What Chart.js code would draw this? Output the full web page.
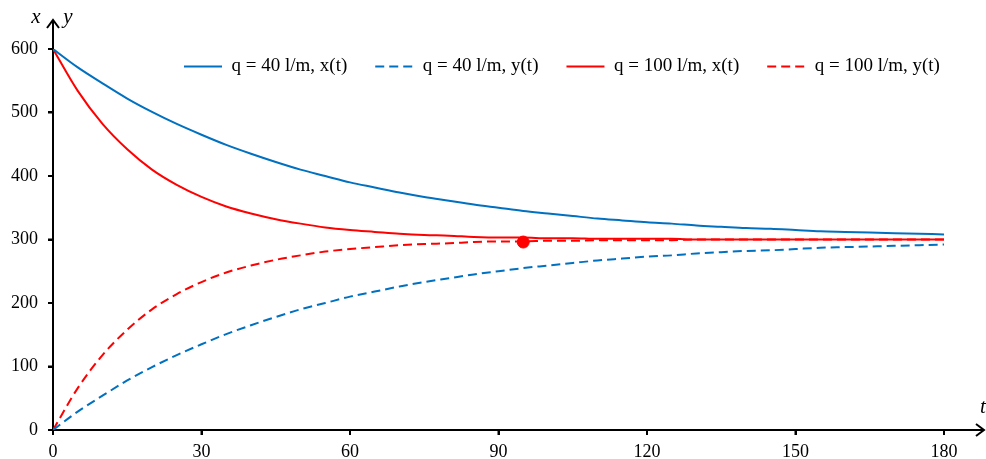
<!DOCTYPE html>
<html>
<head>
<meta charset="utf-8">
<script src="https://cdn.jsdelivr.net/npm/chart.js@4.4.1/dist/chart.umd.min.js"></script>
<style>
  html, body { margin: 0; padding: 0; background: #fff; }
  #wrap { width: 986px; height: 459px; }
</style>
</head>
<body>
<div id="wrap"><canvas id="mixChart"></canvas></div>
<script>
// time in minutes
const times = [0, 5, 10, 15, 20, 25, 30, 35, 40, 45, 50, 55, 60, 65, 70, 75, 80, 85, 90,
  95, 100, 105, 110, 115, 120, 125, 130, 135, 140, 145, 150, 155, 160, 165, 170, 175, 180];

// q = 40 l/m
const x40 = [600, 571, 546, 522, 501, 482, 465, 449, 435, 422, 410, 400, 390, 382, 374, 367, 361, 355, 350,
  345, 341, 337, 333, 330, 327, 325, 322, 320, 318, 317, 315, 313, 312, 311, 310, 309, 308];
const y40 = [0, 29, 54, 78, 99, 118, 135, 151, 165, 178, 190, 200, 210, 218, 226, 233, 239, 245, 250,
  255, 259, 263, 267, 270, 273, 275, 278, 280, 282, 283, 285, 287, 288, 289, 290, 291, 292];

// q = 100 l/m
const x100 = [600, 534, 482, 442, 410, 386, 367, 352, 341, 332, 325, 319, 315, 312, 309, 307, 306, 304, 303,
  303, 302, 302, 301, 301, 301, 301, 300, 300, 300, 300, 300, 300, 300, 300, 300, 300, 300];
const y100 = [0, 66, 118, 158, 190, 214, 233, 248, 259, 268, 275, 281, 285, 288, 291, 293, 294, 296, 297,
  297, 298, 298, 299, 299, 299, 299, 300, 300, 300, 300, 300, 300, 300, 300, 300, 300, 300];

const marker = [{ x: 95, y: 296 }];

const seriesNames = ['q = 40 l/m, x(t)', 'q = 40 l/m, y(t)', 'q = 100 l/m, x(t)', 'q = 100 l/m, y(t)'];

const BLUE = '#0070C0';
const RED = '#FF0000';
const DASH = [9, 5];
const SERIF = '"Liberation Serif", "Times New Roman", serif';

// axis lines with arrows and tick marks, the x / y / t letters,
// and the legend moved inside the plot
const arrowAxes = {
  id: 'arrowAxes',
  afterLayout(chart) {
    const lg = chart.legend;
    lg.left = 156;
    lg.right = 986;
    lg.width = lg.right - lg.left;
    lg.top = 29;
    lg.bottom = 100;
    lg.height = lg.bottom - lg.top;
  },
  beforeDatasetsDraw(chart) {
    const { ctx } = chart;
    const xs = chart.scales.x;
    const ys = chart.scales.y;
    const x0 = xs.getPixelForValue(0);
    const y0 = ys.getPixelForValue(0);
    ctx.save();
    ctx.strokeStyle = '#000';
    ctx.lineWidth = 2;
    ctx.beginPath();
    ctx.moveTo(x0, y0);
    ctx.lineTo(x0, 20);
    ctx.moveTo(x0, y0);
    ctx.lineTo(984, y0);
    xs.ticks.forEach(t => {
      if (t.value === 0) return;
      const px = xs.getPixelForValue(t.value);
      ctx.moveTo(px, y0);
      ctx.lineTo(px, y0 + 5);
    });
    ys.ticks.forEach(t => {
      const py = ys.getPixelForValue(t.value);
      ctx.moveTo(x0 - 5, py);
      ctx.lineTo(x0, py);
    });
    ctx.stroke();

    ctx.lineJoin = 'miter';
    ctx.beginPath();
    ctx.moveTo(x0 - 6, 28);
    ctx.lineTo(x0, 20);
    ctx.lineTo(x0 + 6, 28);
    ctx.moveTo(976, y0 - 6);
    ctx.lineTo(984, y0);
    ctx.lineTo(976, y0 + 6);
    ctx.stroke();

    ctx.fillStyle = '#000';
    ctx.font = 'italic 21px ' + SERIF;
    ctx.textAlign = 'center';
    ctx.textBaseline = 'alphabetic';
    ctx.fillText('x', 36, 23);
    ctx.fillText('y', 68, 23);
    ctx.fillText('t', 983, 413);
    ctx.restore();
  }
};

const datasets = [
  { label: seriesNames[0], data: x40, borderColor: BLUE, backgroundColor: BLUE, borderWidth: 2 },
  { label: seriesNames[1], data: y40, borderColor: BLUE, backgroundColor: BLUE, borderWidth: 2, borderDash: DASH },
  { label: seriesNames[2], data: x100, borderColor: RED, backgroundColor: RED, borderWidth: 2 },
  { label: seriesNames[3], data: y100, borderColor: RED, backgroundColor: RED, borderWidth: 2, borderDash: DASH },
  {
    type: 'scatter', label: 'point', data: marker,
    pointRadius: 6, pointBackgroundColor: RED, pointBorderColor: RED, pointHoverRadius: 6
  }
];
datasets.slice(0, 4).forEach(d => {
  d.pointRadius = 0;
  d.fill = false;
  d.cubicInterpolationMode = 'monotone';
});

// legend samples: keep the dash of each line
function legendLabels(chart) {
  const items = Chart.defaults.plugins.legend.labels.generateLabels(chart);
  return items.filter(item => item.datasetIndex < 4).map(item => {
    const ds = chart.data.datasets[item.datasetIndex];
    item.lineDash = ds.borderDash || [];
    item.strokeStyle = ds.borderColor;
    item.lineWidth = 2;
    return item;
  });
}

const ctx = document.getElementById('mixChart').getContext('2d');
const mixChart = new Chart(ctx, {
  type: 'line',
  data: { labels: times, datasets: datasets },
  plugins: [arrowAxes],
  options: {
    responsive: true,
    maintainAspectRatio: false,
    animation: false,
    layout: { padding: { left: 0, right: 42, top: 27, bottom: 0 } },
    plugins: {
      tooltip: { enabled: false },
      legend: {
        position: 'top',
        align: 'start',
        maxHeight: 22,
        labels: {
          usePointStyle: true,
          pointStyle: 'line',
          pointStyleWidth: 38,
          padding: 28,
          color: '#000',
          font: { family: SERIF, size: 19 },
          generateLabels: legendLabels
        }
      }
    },
    scales: {
      x: {
        type: 'linear',
        min: 0,
        max: 180,
        afterFit: s => { s.height = 29; },
        border: { display: false },
        grid: { drawOnChartArea: false, drawTicks: true, tickLength: 5, lineWidth: 2, tickColor: '#000' },
        ticks: { stepSize: 30, padding: 6, color: '#000', font: { family: SERIF, size: 18 }, maxRotation: 0 }
      },
      y: {
        min: 0,
        max: 600,
        afterFit: s => { s.width = 53; },
        border: { display: false },
        grid: { drawOnChartArea: false, drawTicks: true, tickLength: 5, lineWidth: 2, tickColor: '#000' },
        ticks: { stepSize: 100, padding: 10, color: '#000', font: { family: SERIF, size: 18 } }
      }
    }
  }
});
</script>
</body>
</html>
